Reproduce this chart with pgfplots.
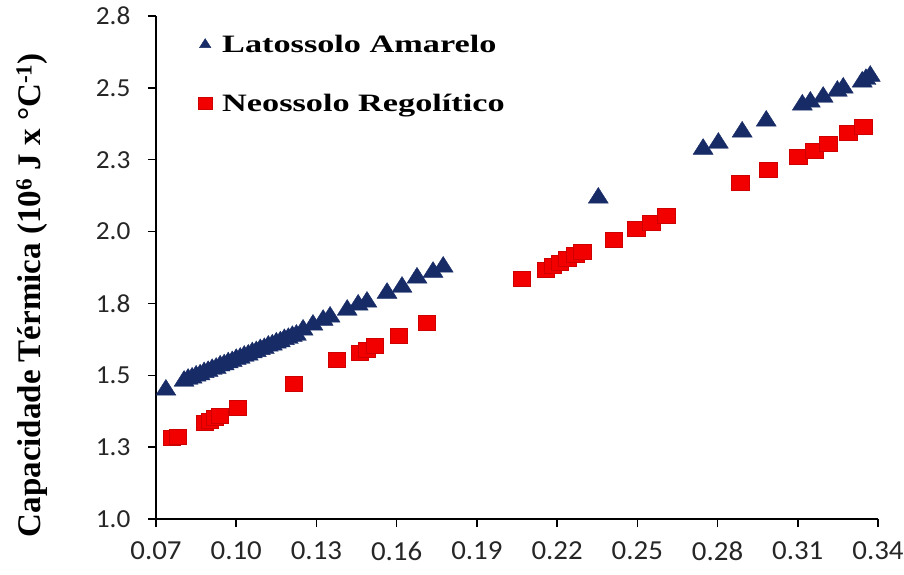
\documentclass[border=0pt]{standalone}
\usepackage{pgfplots}
\pgfplotsset{compat=1.18}
\usepackage{fontspec}
\setmainfont{Liberation Serif}
\newfontfamily\ytickfont{Carlito}[FakeStretch=1.05]
\newfontfamily\xtickfont{Carlito}[FakeStretch=1.05]
\newfontfamily\legfont{Liberation Serif}[FakeStretch=1.37]
\newfontfamily\labfont{Liberation Serif}
\definecolor{navy}{HTML}{172B66}
\definecolor{myred}{HTML}{F20000}
\begin{document}
\begin{tikzpicture}
\begin{axis}[
  scale only axis, width=722pt, height=503pt,
  xmin=0.07, xmax=0.34, ymin=1.0, ymax=2.75,
  axis lines=left, axis line style={-, line width=1.5pt, black},
  xtick={0.07,0.10,0.13,0.16,0.19,0.22,0.25,0.28,0.31,0.34},
  xticklabels={0.07,0.10,0.13,0.16,0.19,0.22,0.25,0.28,0.31,0.34},
  ytick={1,1.25,1.5,1.75,2,2.25,2.5,2.75},
  yticklabels={1.0,1.3,1.5,1.8,2.0,2.3,2.5,2.8},
  tick align=outside, major tick length=8pt,
  tick style={line width=1.5pt, black},
  xticklabel style={font=\fontsize{27.5}{27.5}\selectfont\xtickfont, text=black!85, yshift=-11pt},
  yticklabel style={font=\fontsize{26}{26}\selectfont\ytickfont, text=black!85, xshift=-14pt},
  ylabel={Capacidade Térmica (10\textsuperscript{6} J x °C\textsuperscript{-1})},
  ylabel style={at={(axis description cs:-0.1717,0.445)}, anchor=center,
    font=\fontsize{33}{33}\selectfont\labfont\bfseries},
  legend cell align=left,
  legend style={draw=none, fill=none, at={(rel axis cs:0,1)}, anchor=north west,
    xshift=41pt, yshift=-19pt, inner sep=0pt, row sep=40pt,
    font=\fontsize{25}{25}\selectfont\legfont\bfseries,
    nodes={inner sep=0pt},
    /tikz/every odd column/.append style={column sep=9pt}},
  legend image code/.code={\path[draw=none, fill=none] (-8pt,-7pt) rectangle (8pt,7pt);
    \draw[#1, mark size=6pt] plot coordinates {(0pt,0pt)};},
]
\addplot[only marks, mark=triangle*, mark size=10.5pt,
  mark options={fill=navy, draw=navy, xscale=1.1}] coordinates {
(0.0737,1.449)
(0.0805,1.480) (0.0820,1.487) (0.0835,1.491) (0.0850,1.498) (0.0865,1.502)
(0.0880,1.510) (0.0895,1.514) (0.0910,1.521) (0.0925,1.525) (0.0940,1.533)
(0.0955,1.537) (0.0970,1.544) (0.0985,1.548) (0.1000,1.556) (0.1015,1.560)
(0.1030,1.567) (0.1045,1.571) (0.1060,1.579) (0.1075,1.583) (0.1090,1.590)
(0.1105,1.594) (0.1120,1.602) (0.1135,1.606) (0.1150,1.613) (0.1165,1.617)
(0.1180,1.625) (0.1195,1.629) (0.1210,1.636) (0.1225,1.640)
(0.1250,1.658) (0.1287,1.675) (0.1325,1.692) (0.1351,1.703) (0.1415,1.727)
(0.1456,1.745) (0.1489,1.755) (0.1564,1.786) (0.1620,1.807) (0.1676,1.839)
(0.1736,1.859) (0.1774,1.877)
(0.2354,2.117)
(0.2746,2.287) (0.2803,2.308) (0.2892,2.347) (0.2982,2.385)
(0.3117,2.441) (0.3147,2.451) (0.3195,2.468) (0.3248,2.489) (0.3270,2.500)
(0.3341,2.521) (0.3355,2.530) (0.3371,2.541)
};
\addlegendentry{Latossolo Amarelo}
\addplot[only marks, mark=square*, mark size=7.5pt,
  mark options={fill=myred, draw=myred!85!black, line width=0.6pt, xscale=1.15}] coordinates {
(0.0760,1.282) (0.0782,1.285)
(0.0883,1.334) (0.0902,1.341) (0.0921,1.351) (0.0939,1.358)
(0.1007,1.386) (0.1216,1.470) (0.1377,1.553)
(0.1463,1.578) (0.1489,1.588) (0.1519,1.602) (0.1609,1.637) (0.1714,1.682)
(0.2069,1.835) (0.2159,1.866) (0.2185,1.880) (0.2211,1.891) (0.2238,1.905)
(0.2268,1.919) (0.2294,1.929) (0.2413,1.971) (0.2496,2.009) (0.2552,2.030)
(0.2608,2.055)
(0.2885,2.169) (0.2990,2.214) (0.3102,2.260) (0.3162,2.280) (0.3214,2.305)
(0.3289,2.343) (0.3345,2.364)
};
\addlegendentry{Neossolo Regolítico}
\end{axis}
\pgfresetboundingbox
\path[use as bounding box] (-156pt,-56pt) rectangle (748pt,519pt);
\end{tikzpicture}
\end{document}
